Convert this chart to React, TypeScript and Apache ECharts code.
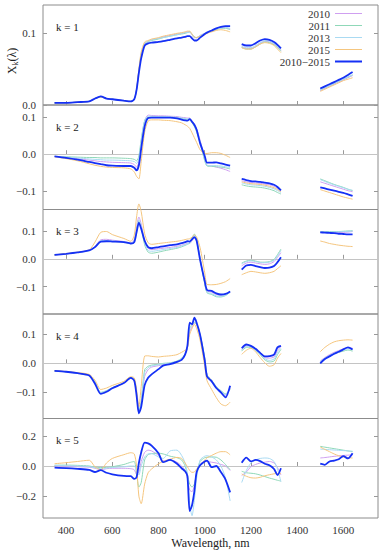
import React, { useEffect, useRef } from "react";
import * as echarts from "echarts";

// Wavelength grids (nm) of the three measured segments
const WL_A = [350, 400, 450, 500, 525, 550, 575, 600, 650, 680, 695, 705, 715, 725, 740, 755, 770, 800, 820, 850, 880, 900, 915, 925, 935, 945, 955, 965, 980, 1000, 1010, 1030, 1050, 1070, 1090, 1110];
const WL_B = [1160, 1180, 1200, 1220, 1240, 1260, 1280, 1300, 1315, 1330];
const WL_C = [1500, 1520, 1540, 1560, 1580, 1600, 1620, 1640];

const SERIES_NAMES = ["2010", "2011", "2013", "2015", "2010\u22122015"];
const X_TICKS = [400, 600, 800, 1000, 1200, 1400, 1600];
const PANEL_LABELS = ["k = 1", "k = 2", "k = 3", "k = 4", "k = 5"];
const Y_MIN = [0, -0.15, -0.198, -0.19, -0.345];
const Y_MAX = [0.1395, 0.1334, 0.177, 0.17, 0.315];
const Y_TICKS = [[0, 0.1], [-0.1, 0, 0.1], [-0.1, 0, 0.1], [-0.1, 0, 0.1], [-0.2, 0, 0.2]];

// ---- k = 1 ----
const K1_2010 = [0.003, 0.003, 0.004, 0.005, 0.009, 0.012, 0.009, 0.008, 0.006, 0.005, 0.008, 0.021, 0.047, 0.070, 0.086, 0.089, 0.091, 0.093, 0.095, 0.097, 0.099, 0.100, 0.101, 0.102, 0.102, 0.098, 0.094, 0.094, 0.097, 0.100, 0.102, 0.104, 0.106, 0.108, 0.108, 0.106,
  0.081, 0.079, 0.079, 0.082, 0.086, 0.089, 0.088, 0.085, 0.081, 0.076,
  0.020, 0.023, 0.026, 0.029, 0.032, 0.035, 0.038, 0.041];
const K1_2011 = [0.003, 0.003, 0.004, 0.005, 0.009, 0.011, 0.009, 0.008, 0.006, 0.005, 0.008, 0.022, 0.048, 0.071, 0.085, 0.088, 0.090, 0.092, 0.094, 0.096, 0.098, 0.099, 0.100, 0.101, 0.102, 0.099, 0.095, 0.094, 0.096, 0.099, 0.101, 0.103, 0.105, 0.107, 0.107, 0.105,
  0.080, 0.078, 0.078, 0.081, 0.085, 0.088, 0.087, 0.084, 0.080, 0.075,
  0.021, 0.024, 0.027, 0.030, 0.033, 0.036, 0.039, 0.042];
const K1_2013 = [0.003, 0.003, 0.004, 0.005, 0.009, 0.012, 0.009, 0.008, 0.006, 0.005, 0.008, 0.021, 0.046, 0.070, 0.086, 0.089, 0.091, 0.093, 0.094, 0.096, 0.098, 0.100, 0.101, 0.101, 0.102, 0.098, 0.094, 0.094, 0.097, 0.100, 0.102, 0.104, 0.106, 0.107, 0.108, 0.107,
  0.082, 0.080, 0.080, 0.083, 0.087, 0.090, 0.089, 0.086, 0.082, 0.077,
  0.021, 0.024, 0.027, 0.030, 0.033, 0.036, 0.039, 0.042];
const K1_2015 = [0.003, 0.003, 0.004, 0.005, 0.009, 0.011, 0.009, 0.008, 0.006, 0.005, 0.008, 0.022, 0.050, 0.074, 0.088, 0.090, 0.092, 0.094, 0.096, 0.098, 0.100, 0.101, 0.102, 0.103, 0.103, 0.099, 0.095, 0.094, 0.096, 0.098, 0.100, 0.102, 0.104, 0.105, 0.104, 0.102,
  0.080, 0.078, 0.078, 0.081, 0.085, 0.087, 0.086, 0.083, 0.078, 0.073,
  0.019, 0.022, 0.025, 0.028, 0.031, 0.034, 0.036, 0.038];
const K1_ALL = [0.003, 0.003, 0.004, 0.005, 0.009, 0.012, 0.009, 0.008, 0.006, 0.005, 0.008, 0.021, 0.045, 0.065, 0.083, 0.086, 0.087, 0.088, 0.089, 0.091, 0.093, 0.094, 0.095, 0.096, 0.096, 0.093, 0.090, 0.090, 0.094, 0.099, 0.101, 0.104, 0.107, 0.109, 0.110, 0.110,
  0.085, 0.083, 0.083, 0.086, 0.090, 0.092, 0.091, 0.088, 0.084, 0.079,
  0.023, 0.026, 0.029, 0.032, 0.035, 0.038, 0.042, 0.046];

// ---- k = 2 ----
const K2_2010 = [-0.006, -0.009, -0.012, -0.016, -0.018, -0.020, -0.021, -0.022, -0.023, -0.024, -0.028, -0.035, -0.020, 0.030, 0.090, 0.106, 0.105, 0.104, 0.104, 0.103, 0.102, 0.100, 0.099, 0.098, 0.098, 0.090, 0.082, 0.068, 0.038, -0.012, -0.030, -0.032, -0.035, -0.038, -0.042, -0.047,
  -0.072, -0.075, -0.077, -0.078, -0.079, -0.081, -0.083, -0.087, -0.093, -0.100,
  -0.075, -0.079, -0.083, -0.087, -0.091, -0.095, -0.099, -0.102];
const K2_2011 = [-0.006, -0.007, -0.008, -0.009, -0.009, -0.010, -0.010, -0.010, -0.011, -0.012, -0.014, -0.018, -0.005, 0.040, 0.090, 0.100, 0.101, 0.101, 0.101, 0.100, 0.099, 0.097, 0.095, 0.093, 0.094, 0.085, 0.075, 0.060, 0.030, -0.018, -0.032, -0.033, -0.034, -0.035, -0.037, -0.040,
  -0.083, -0.086, -0.088, -0.089, -0.090, -0.092, -0.095, -0.099, -0.104, -0.108,
  -0.067, -0.072, -0.077, -0.082, -0.086, -0.090, -0.095, -0.099];
const K2_2013 = [-0.006, -0.008, -0.010, -0.013, -0.014, -0.015, -0.016, -0.016, -0.017, -0.018, -0.020, -0.025, -0.012, 0.035, 0.092, 0.103, 0.103, 0.102, 0.102, 0.101, 0.100, 0.098, 0.097, 0.096, 0.097, 0.088, 0.079, 0.064, 0.034, -0.015, -0.030, -0.031, -0.031, -0.032, -0.034, -0.036,
  -0.078, -0.081, -0.083, -0.084, -0.085, -0.087, -0.090, -0.094, -0.099, -0.104,
  -0.069, -0.074, -0.079, -0.083, -0.087, -0.091, -0.095, -0.098];
const K2_2015 = [-0.007, -0.012, -0.018, -0.026, -0.030, -0.033, -0.035, -0.036, -0.037, -0.040, -0.048, -0.060, -0.067, -0.020, 0.060, 0.090, 0.093, 0.093, 0.092, 0.091, 0.088, 0.085, 0.080, 0.076, 0.070, 0.058, 0.045, 0.032, 0.012, 0.002, 0.002, 0.004, 0.004, 0.002, -0.003, -0.009,
  -0.075, -0.078, -0.080, -0.081, -0.082, -0.084, -0.087, -0.091, -0.096, -0.102,
  -0.096, -0.100, -0.104, -0.108, -0.112, -0.116, -0.119, -0.122];
const K2_ALL = [-0.006, -0.010, -0.015, -0.021, -0.024, -0.027, -0.030, -0.031, -0.032, -0.032, -0.037, -0.044, -0.030, 0.015, 0.075, 0.098, 0.099, 0.099, 0.099, 0.099, 0.097, 0.094, 0.092, 0.091, 0.095, 0.088, 0.080, 0.066, 0.030, -0.005, -0.023, -0.023, -0.022, -0.025, -0.028, -0.031,
  -0.067, -0.070, -0.073, -0.074, -0.075, -0.077, -0.079, -0.083, -0.089, -0.098,
  -0.090, -0.093, -0.096, -0.099, -0.102, -0.105, -0.109, -0.113];

// ---- k = 3 ----
const K3_2010 = [0.014, 0.018, 0.023, 0.031, 0.045, 0.068, 0.070, 0.067, 0.062, 0.056, 0.070, 0.115, 0.150, 0.125, 0.065, 0.038, 0.033, 0.036, 0.038, 0.041, 0.045, 0.049, 0.053, 0.056, 0.055, 0.065, 0.076, 0.062, 0.000, -0.085, -0.115, -0.120, -0.128, -0.130, -0.128, -0.120,
  -0.025, -0.015, -0.012, -0.015, -0.018, -0.020, -0.018, -0.010, 0.005, 0.022,
  0.096, 0.095, 0.094, 0.094, 0.094, 0.095, 0.096, 0.098];
const K3_2011 = [0.014, 0.018, 0.023, 0.030, 0.042, 0.062, 0.064, 0.062, 0.060, 0.054, 0.062, 0.100, 0.135, 0.112, 0.050, 0.024, 0.020, 0.024, 0.028, 0.033, 0.038, 0.043, 0.048, 0.052, 0.056, 0.075, 0.089, 0.070, 0.000, -0.090, -0.122, -0.128, -0.136, -0.137, -0.132, -0.120,
  -0.015, -0.008, -0.005, -0.008, -0.012, -0.012, -0.010, -0.002, 0.015, 0.035,
  0.097, 0.097, 0.098, 0.098, 0.098, 0.099, 0.100, 0.101];
const K3_2013 = [0.014, 0.018, 0.023, 0.030, 0.043, 0.065, 0.066, 0.064, 0.061, 0.055, 0.065, 0.105, 0.140, 0.118, 0.056, 0.030, 0.027, 0.030, 0.033, 0.037, 0.041, 0.046, 0.050, 0.054, 0.057, 0.072, 0.085, 0.068, 0.000, -0.088, -0.120, -0.125, -0.133, -0.135, -0.130, -0.119,
  -0.018, -0.010, -0.007, -0.010, -0.013, -0.014, -0.012, -0.005, 0.010, 0.030,
  0.096, 0.096, 0.096, 0.097, 0.097, 0.098, 0.099, 0.100];
const K3_2015 = [0.014, 0.019, 0.024, 0.032, 0.060, 0.095, 0.098, 0.087, 0.073, 0.063, 0.085, 0.150, 0.197, 0.170, 0.090, 0.058, 0.052, 0.055, 0.057, 0.060, 0.063, 0.066, 0.069, 0.071, 0.072, 0.078, 0.086, 0.078, 0.040, -0.050, -0.092, -0.093, -0.092, -0.088, -0.082, -0.071,
  -0.057, -0.050, -0.045, -0.047, -0.050, -0.052, -0.050, -0.045, -0.035, -0.025,
  0.064, 0.060, 0.055, 0.052, 0.049, 0.047, 0.045, 0.044];
const K3_ALL = [0.014, 0.018, 0.023, 0.030, 0.042, 0.062, 0.063, 0.062, 0.060, 0.055, 0.060, 0.095, 0.130, 0.108, 0.065, 0.042, 0.038, 0.042, 0.045, 0.049, 0.052, 0.056, 0.060, 0.063, 0.062, 0.070, 0.078, 0.065, -0.004, -0.080, -0.112, -0.115, -0.124, -0.128, -0.126, -0.117,
  -0.039, -0.024, -0.022, -0.026, -0.030, -0.033, -0.032, -0.026, -0.012, 0.006,
  0.095, 0.094, 0.093, 0.092, 0.090, 0.089, 0.088, 0.088];

// ---- k = 4 ----
const K4_2010 = [-0.026, -0.029, -0.034, -0.041, -0.066, -0.102, -0.096, -0.086, -0.068, -0.050, -0.058, -0.105, -0.168, -0.140, -0.045, -0.022, -0.013, -0.008, -0.004, 0.000, 0.006, 0.014, 0.030, 0.055, 0.110, 0.125, 0.140, 0.135, 0.095, 0.015, -0.040, -0.058, -0.082, -0.097, -0.110, -0.085,
  0.048, 0.060, 0.058, 0.048, 0.034, 0.020, 0.018, 0.022, 0.045, 0.058,
  0.008, 0.020, 0.030, 0.038, 0.044, 0.050, 0.055, 0.052];
const K4_2011 = [-0.026, -0.029, -0.034, -0.041, -0.064, -0.100, -0.094, -0.084, -0.067, -0.049, -0.056, -0.100, -0.165, -0.130, -0.022, -0.010, -0.006, -0.003, 0.000, 0.002, 0.008, 0.018, 0.032, 0.055, 0.125, 0.132, 0.140, 0.135, 0.100, 0.020, -0.040, -0.058, -0.080, -0.094, -0.105, -0.090,
  0.042, 0.055, 0.055, 0.045, 0.030, 0.012, 0.005, 0.008, 0.030, 0.048,
  0.005, 0.015, 0.024, 0.032, 0.038, 0.042, 0.046, 0.042];
const K4_2013 = [-0.026, -0.029, -0.034, -0.041, -0.065, -0.101, -0.095, -0.085, -0.067, -0.049, -0.057, -0.102, -0.166, -0.135, -0.032, -0.015, -0.009, -0.005, -0.002, 0.001, 0.007, 0.016, 0.031, 0.056, 0.118, 0.130, 0.142, 0.136, 0.098, 0.018, -0.042, -0.060, -0.082, -0.096, -0.108, -0.088,
  0.045, 0.058, 0.056, 0.046, 0.032, 0.016, 0.010, 0.015, 0.038, 0.052,
  0.006, 0.018, 0.027, 0.035, 0.041, 0.046, 0.050, 0.047];
const K4_2015 = [-0.025, -0.028, -0.032, -0.038, -0.058, -0.090, -0.085, -0.076, -0.062, -0.046, -0.050, -0.090, -0.150, -0.080, 0.025, 0.026, 0.024, 0.022, 0.024, 0.026, 0.030, 0.038, 0.045, 0.052, 0.100, 0.120, 0.135, 0.120, 0.080, -0.010, -0.060, -0.090, -0.118, -0.140, -0.146, -0.134,
  0.031, 0.045, 0.052, 0.040, 0.020, 0.002, -0.010, -0.005, 0.018, 0.034,
  0.040, 0.055, 0.066, 0.074, 0.078, 0.080, 0.081, 0.080];
const K4_ALL = [-0.026, -0.029, -0.034, -0.042, -0.070, -0.105, -0.098, -0.086, -0.068, -0.050, -0.060, -0.110, -0.172, -0.150, -0.075, -0.050, -0.038, -0.020, -0.008, -0.003, 0.005, 0.012, 0.030, 0.060, 0.140, 0.135, 0.157, 0.140, 0.098, 0.010, -0.045, -0.062, -0.085, -0.100, -0.117, -0.077,
  0.052, 0.065, 0.060, 0.050, 0.036, 0.024, 0.025, 0.030, 0.055, 0.060,
  0.000, 0.015, 0.024, 0.033, 0.040, 0.048, 0.055, 0.048];

// ---- k = 5 ----
const K5_2010 = [0.000, -0.002, -0.005, -0.008, -0.015, -0.025, -0.018, -0.015, -0.015, -0.018, -0.025, -0.055, -0.040, 0.030, 0.090, 0.105, 0.100, 0.070, 0.035, 0.040, 0.025, 0.000, -0.030, -0.080, -0.160, -0.170, -0.130, -0.050, 0.010, 0.030, 0.030, 0.025, 0.020, 0.010, 0.000, -0.030,
  -0.063, -0.040, -0.005, 0.010, 0.020, 0.025, 0.030, 0.020, -0.010, -0.060,
  0.053, 0.056, 0.060, 0.064, 0.067, 0.070, 0.072, 0.074];
const K5_2011 = [0.005, 0.006, 0.004, 0.000, -0.008, -0.010, -0.010, -0.005, 0.010, 0.025, 0.030, -0.050, -0.140, -0.110, 0.040, 0.075, 0.082, 0.085, 0.080, 0.065, 0.055, 0.040, 0.000, -0.060, -0.120, -0.140, -0.120, -0.050, 0.030, 0.055, 0.058, 0.060, 0.058, 0.040, 0.010, -0.025,
  -0.035, -0.045, -0.048, -0.052, -0.060, -0.070, -0.080, -0.088, -0.095, -0.100,
  0.130, 0.125, 0.120, 0.115, 0.110, 0.105, 0.100, 0.095];
const K5_2013 = [0.003, 0.002, 0.000, -0.004, -0.012, -0.018, -0.014, -0.010, -0.005, 0.000, 0.000, -0.030, -0.060, 0.000, 0.060, 0.080, 0.082, 0.060, 0.050, 0.100, 0.105, 0.070, 0.020, -0.050, -0.250, -0.330, -0.230, -0.080, 0.040, 0.065, 0.068, 0.060, 0.040, 0.000, -0.080, -0.232,
  -0.110, -0.030, 0.020, 0.040, 0.050, 0.053, 0.050, 0.030, -0.020, -0.105,
  0.112, 0.110, 0.108, 0.106, 0.104, 0.102, 0.100, 0.098];
const K5_2015 = [0.015, 0.022, 0.030, 0.038, -0.005, -0.025, 0.020, 0.050, 0.075, 0.088, 0.080, 0.000, -0.200, -0.250, -0.120, -0.045, -0.020, 0.015, 0.030, 0.045, 0.057, 0.050, 0.020, -0.005, -0.030, -0.042, -0.040, -0.020, 0.005, 0.040, 0.055, 0.070, 0.085, 0.095, 0.095, 0.074,
  -0.053, -0.068, -0.078, -0.080, -0.075, -0.065, -0.058, -0.052, -0.050, -0.050,
  0.126, 0.110, 0.095, 0.080, 0.068, 0.060, 0.055, 0.053];
const K5_ALL = [-0.011, -0.014, -0.019, -0.026, -0.040, -0.028, -0.045, -0.055, -0.066, -0.068, -0.085, -0.075, 0.020, 0.090, 0.155, 0.150, 0.135, 0.085, 0.025, 0.040, 0.015, -0.015, -0.035, -0.065, -0.300, -0.260, -0.170, -0.040, 0.005, 0.030, 0.036, -0.008, 0.000, -0.040, -0.090, -0.175,
  0.021, 0.055, 0.030, 0.040, 0.032, 0.015, 0.005, -0.020, -0.060, -0.015,
  0.015, 0.008, 0.030, 0.036, 0.045, 0.065, 0.050, 0.084];

const PANEL_DATA = [
  [K1_2010, K1_2011, K1_2013, K1_2015, K1_ALL],
  [K2_2010, K2_2011, K2_2013, K2_2015, K2_ALL],
  [K3_2010, K3_2011, K3_2013, K3_2015, K3_ALL],
  [K4_2010, K4_2011, K4_2013, K4_2015, K4_ALL],
  [K5_2010, K5_2011, K5_2013, K5_2015, K5_ALL],
];

const COLORS = ["#cf9ff0", "#8fd8b8", "#a9daf2", "#f5c67f", "#1530f5"];
const FONT = "Liberation Serif";

function toPairs(vals: number[]) {
  const out: any[] = [];
  WL_A.forEach((w, i) => out.push([w, vals[i]]));
  out.push([1135, null]);
  WL_B.forEach((w, i) => out.push([w, vals[WL_A.length + i]]));
  out.push([1415, null]);
  WL_C.forEach((w, i) => out.push([w, vals[WL_A.length + WL_B.length + i]]));
  return out;
}

const fmtY = (v: number) => (Math.abs(v) < 1e-9 ? "0.0" : v.toFixed(1).replace("-", "\u2212"));
const fmtX = (v: number) => String(Math.round(v));

export default function App() {
  const ref = useRef<HTMLDivElement>(null);
  useEffect(() => {
    if (!ref.current) return;
    const chart = echarts.init(ref.current, undefined, { renderer: "svg" });
    const tops = [5, 105, 209.5, 314, 418.5];
    const heights = [100, 104.5, 104.5, 104.5, 104.5];
    const grid: any[] = [];
    const xAxis: any[] = [];
    const yAxis: any[] = [];
    const series: any[] = [];
    const graphic: any[] = [];
    for (let p = 0; p < 5; p++) {
      grid.push({
        left: 43, right: 6, top: tops[p], height: heights[p],
        show: true, borderColor: "#8c8c8c", borderWidth: 1, backgroundColor: "transparent",
      });
      const last = p === 4;
      xAxis.push({
        type: "value", gridIndex: p, min: 300, max: 1750,
        axisLine: { show: false },
        axisTick: { show: true, inside: true, length: 4, customValues: X_TICKS, lineStyle: { color: "#999" } },
        axisLabel: { show: last, customValues: X_TICKS, formatter: fmtX, fontFamily: FONT, fontSize: 11, color: "#333", margin: 6 },
        splitLine: { show: false },
        name: last ? "Wavelength, nm" : "",
        nameLocation: "middle", nameGap: 19,
        nameTextStyle: { fontFamily: FONT, fontSize: 12, color: "#222" },
      });
      yAxis.push({
        type: "value", gridIndex: p, min: Y_MIN[p], max: Y_MAX[p], position: "left",
        axisLine: { show: false },
        axisTick: { show: true, inside: true, length: 4, customValues: Y_TICKS[p], lineStyle: { color: "#999" } },
        axisLabel: { customValues: Y_TICKS[p], formatter: fmtY, fontFamily: FONT, fontSize: 11, color: "#333", margin: 7 },
        splitLine: { show: false },
      });
      yAxis.push({
        type: "value", gridIndex: p, min: Y_MIN[p], max: Y_MAX[p], position: "right",
        axisLine: { show: false },
        axisTick: { show: true, inside: true, length: 4, customValues: Y_TICKS[p], lineStyle: { color: "#999" } },
        axisLabel: { show: false },
        splitLine: { show: false },
      });
      PANEL_DATA[p].forEach((vals, s) => {
        const s1: any = {
          type: "line", name: SERIES_NAMES[s], xAxisIndex: p, yAxisIndex: p * 2,
          data: toPairs(vals), showSymbol: false, symbol: "none", connectNulls: false,
          smooth: 0.25,
          clip: !(p === 2 && s === 3),
          lineStyle: { color: COLORS[s], width: s === 4 ? 1.8 : 1 },
          itemStyle: { color: COLORS[s] },
          z: s === 4 ? 4 : 3,
        };
        if (s === 0 && p > 0) {
          s1.markLine = {
            silent: true, symbol: ["none", "none"], label: { show: false },
            lineStyle: { color: "#c4c4c4", width: 1, type: "solid" },
            data: [{ yAxis: 0 }], z: 1,
          };
        }
        series.push(s1);
      });
      graphic.push({
        type: "text", left: 56, top: tops[p] + 16,
        style: { text: PANEL_LABELS[p], fontFamily: FONT, fontSize: 11, fill: "#222" },
      });
    }
    graphic.push({
      type: "text", x: 12, y: 61, rotation: Math.PI / 2,
      style: {
        text: "{a|X}{b|k}{a|(\u03bb)}",
        align: "center", verticalAlign: "middle",
        rich: {
          a: { fontFamily: FONT, fontSize: 12, lineHeight: 15, fill: "#222" },
          b: { fontFamily: FONT, fontSize: 8, lineHeight: 15, verticalAlign: "bottom", fill: "#222" },
        },
      },
    });
    chart.setOption({
      animation: false,
      backgroundColor: "#fff",
      grid, xAxis, yAxis, series, graphic,
      legend: {
        data: SERIES_NAMES.map((n, i) => ({
          name: n,
          icon: i === 4 ? "path://M0,0h27v2h-27z" : "path://M0,0h27v1h-27z",
        })),
        orient: "vertical", align: "right",
        right: 17, top: 3, itemWidth: 27, itemHeight: 8, itemGap: 1,
        textStyle: { fontFamily: FONT, fontSize: 11, color: "#333", lineHeight: 10 },
      },
    });
    return () => chart.dispose();
  }, []);
  return <div ref={ref} style={{ position: "fixed", left: 0, top: 0, width: 384, height: 550 }} />;
}
